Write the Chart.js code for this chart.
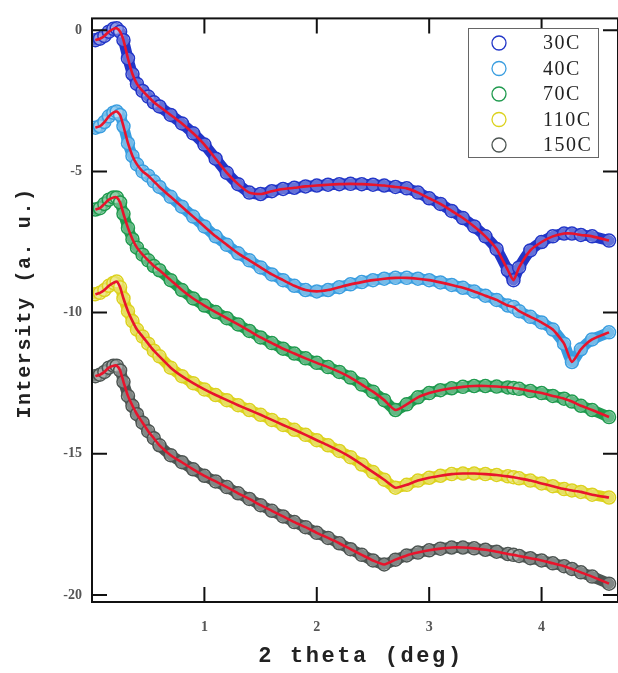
<!DOCTYPE html>
<html>
<head>
<meta charset="utf-8">
<script src="https://cdn.jsdelivr.net/npm/chart.js@4.4.1/dist/chart.umd.min.js"></script>
<style>
    body { margin: 0; background: #fff; }
    #marco { width: 618px; height: 673px; overflow: hidden; }
</style>
</head>
<body>
<div id="marco"><canvas id="grafica_xrr" width="626" height="673"></canvas></div>
<script>
/* 2 theta values shared by every temperature */
const DOS_THETA = [0.03, 0.07, 0.11, 0.15, 0.19, 0.22, 0.25, 0.28, 0.32, 0.36, 0.4, 0.45, 0.5, 0.55, 0.6,
    0.7, 0.8, 0.9, 1.0, 1.1, 1.2, 1.3, 1.4, 1.5, 1.6, 1.7, 1.8, 1.9, 2.0, 2.1, 2.2, 2.3, 2.4, 2.5,
    2.6, 2.7, 2.8, 2.9, 3.0, 3.1, 3.2, 3.3, 3.4, 3.5, 3.6, 3.7, 3.75, 3.8, 3.9, 4.0, 4.1, 4.2, 4.27,
    4.35, 4.45, 4.6];

/* log intensity per temperature (shifted curves) */
const SERIE_30C = [-0.35, -0.3, -0.2, -0.05, 0.05, 0.07, -0.05, -0.35, -1.0, -1.55, -1.9, -2.15, -2.35, -2.55, -2.7,
    -3.0, -3.3, -3.65, -4.05, -4.55, -5.05, -5.45, -5.75, -5.8, -5.7, -5.62, -5.58, -5.53, -5.5, -5.47, -5.45, -5.44, -5.45, -5.47,
    -5.5, -5.55, -5.6, -5.75, -5.95, -6.15, -6.4, -6.65, -6.95, -7.3, -7.75, -8.5, -8.85, -8.4, -7.8, -7.5, -7.3, -7.2, -7.2,
    -7.25, -7.3, -7.45];
const SERIE_40C = [-3.45, -3.4, -3.25, -3.05, -2.92, -2.88, -3.0, -3.4, -4.0, -4.45, -4.75, -5.0, -5.15, -5.35, -5.55,
    -5.9, -6.25, -6.6, -6.95, -7.3, -7.6, -7.9, -8.15, -8.4, -8.65, -8.85, -9.05, -9.2, -9.25, -9.2, -9.1, -9.0, -8.92, -8.85,
    -8.8, -8.77, -8.77, -8.8, -8.85, -8.93, -9.02, -9.12, -9.25, -9.4, -9.55, -9.75, -9.8, -9.95, -10.15, -10.35, -10.6, -11.1, -11.75,
    -11.3, -10.95, -10.7];
const SERIE_70C = [-6.35, -6.3, -6.15, -6.0, -5.92, -5.92, -6.1, -6.5, -7.0, -7.4, -7.7, -7.95, -8.15, -8.35, -8.5,
    -8.85, -9.2, -9.5, -9.75, -9.98, -10.2, -10.42, -10.65, -10.88, -11.08, -11.28, -11.45, -11.62, -11.78, -11.93, -12.1, -12.3, -12.55, -12.8,
    -13.1, -13.45, -13.25, -13.0, -12.85, -12.75, -12.68, -12.63, -12.6, -12.6, -12.62, -12.65, -12.67, -12.7, -12.78, -12.85, -12.95, -13.05, -13.15,
    -13.3, -13.45, -13.7];
const SERIE_110C = [-9.35, -9.3, -9.2, -9.05, -8.95, -8.9, -9.1, -9.5, -9.95, -10.3, -10.6, -10.85, -11.1, -11.35, -11.55,
    -11.95, -12.25, -12.5, -12.72, -12.92, -13.1, -13.28, -13.45, -13.62, -13.8, -13.98, -14.15, -14.33, -14.52, -14.7, -14.9, -15.12, -15.38, -15.65,
    -15.92, -16.2, -16.1, -15.95, -15.85, -15.78, -15.72, -15.7, -15.7, -15.72, -15.75, -15.8, -15.83, -15.87, -15.95, -16.05, -16.15, -16.25, -16.3,
    -16.35, -16.45, -16.55];
const SERIE_150C = [-12.25, -12.2, -12.1, -11.95, -11.88, -11.88, -12.05, -12.45, -12.95, -13.3, -13.6, -13.9, -14.2, -14.45, -14.7,
    -15.05, -15.3, -15.55, -15.78, -15.98, -16.18, -16.4, -16.6, -16.82, -17.02, -17.22, -17.42, -17.6, -17.8, -17.98, -18.17, -18.38, -18.58, -18.78,
    -18.92, -18.75, -18.6, -18.5, -18.42, -18.36, -18.32, -18.32, -18.35, -18.4, -18.47, -18.55, -18.58, -18.62, -18.7, -18.78, -18.88, -18.98, -19.08,
    -19.2, -19.35, -19.6];

const ETIQUETAS = ['30C', '40C', '70C', '110C', '150C'];
const TICKS_X = [1, 2, 3, 4];
const TICKS_Y = [-20, -15, -10, -5, 0];

const SERIES  = [SERIE_30C, SERIE_40C, SERIE_70C, SERIE_110C, SERIE_150C];
const COLORES = ['#2236c8', '#3a9ee0', '#1f9a4e', '#dcd21e', '#4d5552'];
const ROJO    = '#e8142c';

/* builds {x, y} points from the shared 2 theta array */
function puntos(serie) {
    return DOS_THETA.map((x, i) => ({ x: x, y: serie[i] }));
}

/* red fit lines go first so they are drawn on top */
const datasets = [];
SERIES.forEach((s, i) => {
    datasets.push({
        label: 'fit ' + ETIQUETAS[i],
        data: puntos(s),
        borderColor: ROJO,
        borderWidth: 2.6,
        pointRadius: 0,
        tension: 0.2
    });
});
SERIES.forEach((s, i) => {
    datasets.push({
        label: ETIQUETAS[i],
        data: puntos(s),
        borderColor: COLORES[i],
        borderWidth: 11,
        borderJoinStyle: 'round',
        borderCapStyle: 'round',
        tension: 0.2,
        pointRadius: 6.5,
        pointBorderWidth: 1.5,
        pointBorderColor: COLORES[i],
        pointBackgroundColor: 'rgba(255,255,255,0.3)'
    });
});

/* frame, inward ticks, axis titles and boxed legend */
const marco = {
    id: 'marco',
    afterDraw(chart) {
        const { ctx, chartArea: a, scales: { x, y } } = chart;
        ctx.save();
        ctx.strokeStyle = '#111';
        ctx.lineWidth = 2;
        ctx.strokeRect(a.left, a.top, a.right - a.left, a.bottom - a.top);

        ctx.beginPath();
        TICKS_X.forEach(v => {
            const px = x.getPixelForValue(v);
            ctx.moveTo(px, a.bottom); ctx.lineTo(px, a.bottom - 15);
            ctx.moveTo(px, a.top);    ctx.lineTo(px, a.top + 15);
        });
        TICKS_Y.forEach(v => {
            const py = y.getPixelForValue(v);
            ctx.moveTo(a.left, py);  ctx.lineTo(a.left + 15, py);
            ctx.moveTo(a.right, py); ctx.lineTo(a.right - 15, py);
        });
        ctx.stroke();

        /* axis titles */
        ctx.fillStyle = '#222';
        ctx.font = 'bold 22px "Liberation Mono", monospace';
        ctx.letterSpacing = '2.6px';
        ctx.textAlign = 'center';
        ctx.textBaseline = 'middle';
        ctx.fillText('2 theta (deg)', 361, 656);

        ctx.save();
        ctx.translate(25, 303);
        ctx.rotate(-Math.PI / 2);
        ctx.font = 'bold 20px "Liberation Mono", monospace';
        ctx.letterSpacing = '1.6px';
        ctx.fillText('Intersity (a. u.)', 0, 0);
        ctx.restore();

        /* legend box */
        ctx.letterSpacing = '1.5px';
        ctx.lineWidth = 1;
        ctx.strokeStyle = '#666';
        ctx.fillStyle = '#fff';
        ctx.fillRect(468, 28, 130, 129);
        ctx.strokeRect(468.5, 28.5, 130, 129);
        ctx.font = '20px "Liberation Serif", serif';
        ctx.textAlign = 'left';
        ETIQUETAS.forEach((t, i) => {
            const ly = 43 + i * 25.5;
            ctx.beginPath();
            ctx.arc(499, ly, 7, 0, Math.PI * 2);
            ctx.strokeStyle = COLORES[i];
            ctx.lineWidth = 1.3;
            ctx.stroke();
            ctx.fillStyle = '#222';
            ctx.fillText(t, 543, ly + 1);
        });
        ctx.restore();
    }
};

Chart.defaults.font.family = '"Liberation Serif", serif';

new Chart(document.getElementById('grafica_xrr'), {
    type: 'line',
    data: { datasets: datasets },
    options: {
        responsive: false,
        animation: false,
        devicePixelRatio: 1,
        layout: { padding: { top: 5, right: 3, left: 0, bottom: 0 } },
        plugins: { legend: { display: false }, tooltip: { enabled: false } },
        scales: {
            x: {
                type: 'linear',
                min: 0,
                max: 4.68,
                grid: { display: false, drawTicks: false },
                border: { display: false },
                afterBuildTicks: s => { s.ticks = TICKS_X.map(v => ({ value: v })); },
                afterFit: s => { s.height = 71; },
                ticks: { color: '#555', font: { size: 14, weight: 'bold' }, padding: 17 }
            },
            y: {
                type: 'linear',
                min: -20.25,
                max: 0.42,
                grid: { display: false, drawTicks: false },
                border: { display: false },
                afterBuildTicks: s => { s.ticks = TICKS_Y.map(v => ({ value: v })); },
                afterFit: s => { s.width = 92; },
                ticks: { color: '#555', font: { size: 14, weight: 'bold' }, padding: 10 }
            }
        }
    },
    plugins: [marco]
});
</script>
</body>
</html>
